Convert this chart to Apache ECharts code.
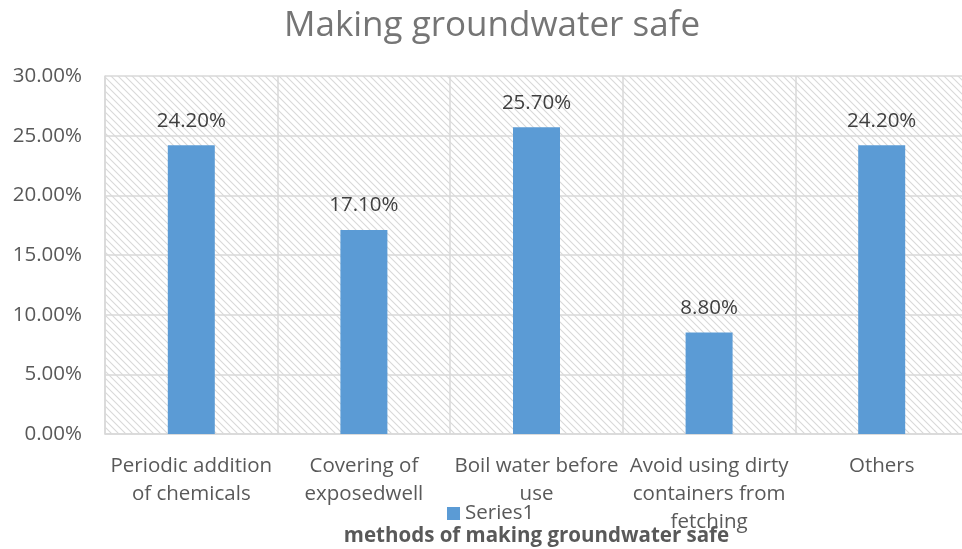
<!DOCTYPE html>
<html>
<head>
<meta charset="utf-8">
<script src="https://cdn.jsdelivr.net/npm/echarts@6/dist/echarts.min.js"></script>
<style>
html,body{margin:0;padding:0;background:#fff;}
#chart{width:962px;height:549px;}
</style>
</head>
<body>
<div id="chart"></div>
<script>
const categories = [
  'Periodic addition\nof chemicals',
  'Covering of\nexposedwell',
  'Boil water before\nuse',
  'Avoid using dirty\ncontainers from\nfetching',
  'Others'
];
const seriesName = 'Series1';
const values = [24.2, 17.1, 25.7, 8.5, 24.2];
const valueLabels = ['24.20%', '17.10%', '25.70%', '8.80%', '24.20%'];
const yTicks = [0, 5, 10, 15, 20, 25, 30];

function makeHatch() {
  const c = document.createElement('canvas');
  c.width = 7; c.height = 7;
  const g = c.getContext('2d');
  g.fillStyle = '#ffffff';
  g.fillRect(0, 0, 7, 7);
  g.strokeStyle = '#d9d9d9';
  g.lineWidth = 1.1;
  g.beginPath();
  g.moveTo(-2, -2); g.lineTo(9, 9);
  g.moveTo(-2, 5); g.lineTo(2, 9);
  g.moveTo(5, -2); g.lineTo(9, 2);
  g.stroke();
  return c;
}

const chart = echarts.init(document.getElementById('chart'));
const font = '"Open Sans", sans-serif';
const fs = 20.5;
chart.setOption({
  animation: false,
  textStyle: { fontFamily: font },
  title: {
    text: 'Making groundwater safe',
    left: 487, top: 4, textAlign: 'center',
    textStyle: { color: '#757575', fontSize: 35, fontWeight: 'normal', fontFamily: font }
  },
  legend: {
    data: [seriesName],
    left: 442, top: 498,
    itemWidth: 13, itemHeight: 13, itemGap: 5,
    icon: 'rect',
    textStyle: { color: '#595959', fontSize: fs, fontFamily: font, padding: [0, 0, 0, 0] }
  },
  grid: {
    left: 105, right: -6, top: 76, bottom: 115,
    outerBoundsMode: 'none',
    containLabel: false,
    show: true, borderWidth: 0,
    backgroundColor: { image: makeHatch(), repeat: 'repeat' }
  },
  xAxis: {
    type: 'category',
    data: categories,
    name: 'methods of making groundwater safe',
    nameLocation: 'middle',
    nameGap: 92,
    nameMoveOverlap: false,
    nameTextStyle: { color: '#595959', fontSize: fs, fontWeight: 'bold', fontFamily: font },
    axisLine: { show: true, lineStyle: { color: '#d9d9d9', width: 1.5 } },
    axisTick: { show: false },
    axisLabel: { color: '#595959', fontSize: fs, lineHeight: 28, margin: 18, interval: 0, fontFamily: font },
    splitLine: { show: true, interval: 0, lineStyle: { color: '#d9d9d9', width: 1.5 } }
  },
  yAxis: {
    type: 'value',
    min: yTicks[0], max: yTicks[yTicks.length - 1], interval: 5,
    axisLine: { show: true, lineStyle: { color: '#d9d9d9', width: 1.5 } },
    axisTick: { show: false },
    axisLabel: { color: '#595959', fontSize: fs, margin: 23, fontFamily: font,
      formatter: v => v.toFixed(2) + '%' },
    splitLine: { show: true, lineStyle: { color: '#d9d9d9', width: 1.5 } }
  },
  series: [{
    name: seriesName,
    type: 'bar',
    data: values,
    barWidth: 47,
    itemStyle: { color: '#5b9bd5' },
    label: {
      show: true, position: 'top', distance: 14,
      color: '#404040', fontSize: fs, fontFamily: font,
      formatter: p => valueLabels[p.dataIndex]
    }
  }]
});
</script>
</body>
</html>
